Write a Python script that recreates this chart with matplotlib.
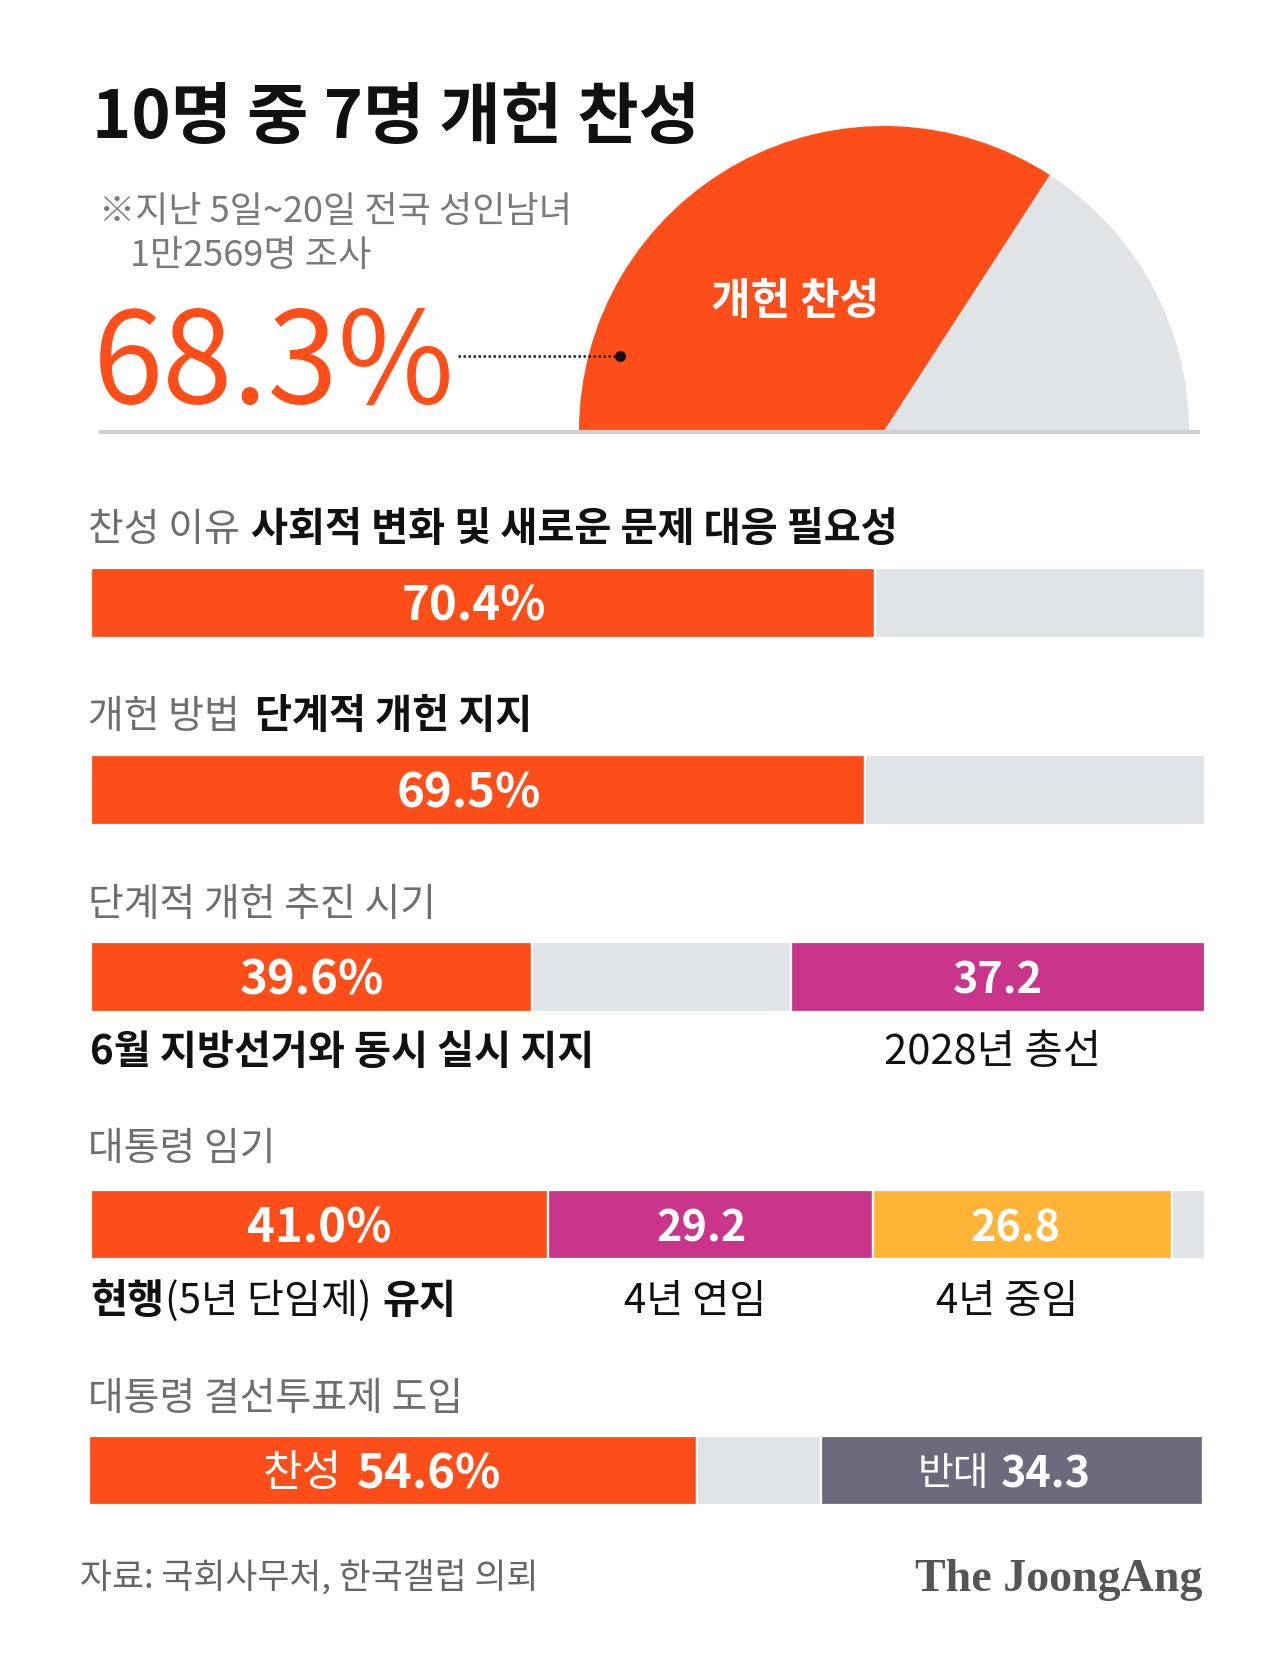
import matplotlib
matplotlib.use('Agg')
import matplotlib.pyplot as plt
from matplotlib.transforms import offset_copy

plt.rcParams['font.family'] = ['Noto Sans CJK KR', 'DejaVu Sans']

# ---------------- data ----------------
overall_values = [68.3, 31.7]            # 개헌 찬성 / 기타
reason_value = 70.4                      # 찬성 이유: 사회적 변화 및 새로운 문제 대응 필요성
method_value = 69.5                      # 개헌 방법: 단계적 개헌 지지
timing_values = [39.6, 37.2]             # 6월 지방선거와 동시 / 2028년 총선
timing_labels = ['6월 지방선거와 동시 실시 지지', '2028년 총선']
term_values = [41.0, 29.2, 26.8]         # 현행 유지 / 4년 연임 / 4년 중임
term_labels = ['현행(5년 단임제) 유지', '4년 연임', '4년 중임']
runoff_values = [54.6, 34.3]             # 찬성 / 반대
runoff_labels = ['찬성', '반대']

# ---------------- style ----------------
W, H, DPI = 1288, 1665, 100
ORANGE = '#FD4E1A'
LGRAY = '#E0E4E6'
MAGENTA = '#C8358A'
YELLOW = '#FDB437'
SLATE = '#6C6B7E'
SUBGRAY = '#7A7A7A'
HEADGRAY = '#6E6E6E'
BLACK = '#111111'
FS = 29
FSG = 28

fig = plt.figure(figsize=(W / DPI, H / DPI), dpi=DPI)
fig.patch.set_facecolor('white')

ax0 = fig.add_axes([0, 0, 1, 1])
ax0.set_xlim(0, W)
ax0.set_ylim(H, 0)
ax0.axis('off')
ax0.patch.set_alpha(0)
ax0.set_zorder(10)

renderer = fig.canvas.get_renderer()


def runs(ax, x, y, parts, ha='left', gaps=None, va='center'):
    """Place a sequence of differently-styled text runs side by side."""
    texts = []
    for s, kw in parts:
        t = ax.text(x, y, s, ha='left', va=va, **kw)
        texts.append(t)
    widths = [t.get_window_extent(renderer=renderer).width for t in texts]
    if gaps is None:
        gaps = [10] * (len(parts) - 1)
    total = sum(widths) + sum(gaps)
    off = 0 if ha == 'left' else -total / 2
    for i, t in enumerate(texts):
        t.set_transform(offset_copy(ax.transData, fig=fig, x=off, y=0, units='dots'))
        off += widths[i] + (gaps[i] if i < len(gaps) else 0)
    return texts


# ---------------- header ----------------
ax0.text(92, 118, '10명 중 7명 개헌 찬성', fontsize=48, weight='bold', color=BLACK, va='center')
ax0.text(99, 212, '※지난 5일~20일 전국 성인남녀', fontsize=26, color=SUBGRAY, va='center')
ax0.text(130, 256, '1만2569명 조사', fontsize=26, color=SUBGRAY, va='center')
ax0.text(93, 367, f'{overall_values[0]}%', fontsize=91, color=ORANGE, va='center')

# half pie
axp = fig.add_axes([579 / W, 1 - 432 / H, 610 / W, 305 / H])
axp.pie(overall_values + [sum(overall_values)], colors=[ORANGE, LGRAY, 'none'],
        startangle=180, counterclock=False, radius=1,
        wedgeprops=dict(linewidth=0))
axp.set_xlim(-1, 1)
axp.set_ylim(0, 1)
axp.set_aspect('equal')
axp.axis('off')
axp.text(-0.29, 0.43, '개헌 찬성', color='white', fontsize=31, weight='bold', ha='center', va='center')

# leader line
ax0.plot([458, 615], [357, 357], ls=(0, (1, 1)), color='#222222', lw=1.8)
ax0.plot([620], [357], 'o', ms=7, color='#111111')
ax0.plot([99, 1200], [433, 433], color='#CDD0D2', lw=3, solid_capstyle='butt')


# ---------------- bar rows ----------------
def bar_axes(top, bottom, left=91, right=1205):
    ax = fig.add_axes([left / W, 1 - bottom / H, (right - left) / W, (bottom - top) / H])
    ax.set_xlim(0, 100)
    ax.set_ylim(0, 1)
    ax.axis('off')
    return ax


def seg(ax, left, width, color):
    ax.barh(0.5, width, left=left, height=1, color=color, edgecolor='white', linewidth=1.6)


VAL = dict(color='white', fontsize=34, weight='bold')
VAL2 = dict(color='white', fontsize=31, weight='bold')
YT = 0.46

# row 1
runs(ax0, 88, 530, [('찬성 이유', dict(fontsize=FSG, color=HEADGRAY)),
                    ('사회적 변화 및 새로운 문제 대응 필요성', dict(fontsize=FS, color=BLACK, weight='bold'))],
     gaps=[11])
ax1 = bar_axes(569, 639)
seg(ax1, 0, reason_value, ORANGE)
seg(ax1, reason_value, 100 - reason_value, LGRAY)
ax1.text(reason_value / 2 - 0.8, YT, f'{reason_value}%', ha='center', va='center', **VAL)

# row 2
runs(ax0, 88, 717, [('개헌 방법', dict(fontsize=FSG, color=HEADGRAY)),
                    ('단계적 개헌 지지', dict(fontsize=FS, color=BLACK, weight='bold'))],
     gaps=[15])
ax2 = bar_axes(756, 826)
seg(ax2, 0, method_value, ORANGE)
seg(ax2, method_value, 100 - method_value, LGRAY)
ax2.text(method_value / 2 - 0.8, YT, f'{method_value}%', ha='center', va='center', **VAL)

# row 3
ax0.text(88, 905, '단계적 개헌 추진 시기', fontsize=FSG, color=HEADGRAY, va='center')
ax3 = bar_axes(943, 1013)
seg(ax3, 0, timing_values[0], ORANGE)
seg(ax3, timing_values[0], 100 - sum(timing_values), LGRAY)
seg(ax3, 100 - timing_values[1], timing_values[1], MAGENTA)
ax3.text(timing_values[0] / 2, YT, f'{timing_values[0]}%', ha='center', va='center', **VAL)
ax3.text(100 - timing_values[1] / 2, YT, f'{timing_values[1]}', ha='center', va='center', **VAL2)
ax3.text(-0.1, -0.56, timing_labels[0], ha='left', va='center', fontsize=FS, weight='bold', color=BLACK)
ax3.text(100 - timing_values[1] / 2 - 0.5, -0.56, timing_labels[1], ha='center', va='center', fontsize=30, color=BLACK)

# row 4
ax0.text(88, 1149, '대통령 임기', fontsize=FSG, color=HEADGRAY, va='center')
ax4 = bar_axes(1191, 1260)
term_colors = [ORANGE, MAGENTA, YELLOW]
left = 0
for v, c in zip(term_values, term_colors):
    seg(ax4, left, v, c)
    left += v
seg(ax4, left, 100 - left, LGRAY)
lefts = [0, term_values[0], term_values[0] + term_values[1]]
ax4.text(lefts[0] + term_values[0] / 2, YT, f'{term_values[0]}%', ha='center', va='center', **VAL)
ax4.text(lefts[1] + term_values[1] / 2 - 0.8, YT, f'{term_values[1]}', ha='center', va='center', **VAL2)
ax4.text(lefts[2] + term_values[2] / 2 - 0.6, YT, f'{term_values[2]}', ha='center', va='center', **VAL2)
runs(ax4, -0.1, -0.6, [('현행', dict(fontsize=FS, color=BLACK, weight='bold')),
                       ('(5년 단임제)', dict(fontsize=FS, color=BLACK)),
                       ('유지', dict(fontsize=FS, color=BLACK, weight='bold'))],
     gaps=[1, 11])
ax4.text(lefts[1] + term_values[1] / 2 - 1.4, -0.6, term_labels[1], ha='center', va='center', fontsize=FS, color=BLACK)
ax4.text(lefts[2] + term_values[2] / 2 - 1.4, -0.6, term_labels[2], ha='center', va='center', fontsize=FS, color=BLACK)

# row 5
ax0.text(88, 1399, '대통령 결선투표제 도입', fontsize=FSG, color=HEADGRAY, va='center')
ax5 = bar_axes(1437, 1506, left=89, right=1203)
seg(ax5, 0, runoff_values[0], ORANGE)
seg(ax5, runoff_values[0], 100 - sum(runoff_values), LGRAY)
seg(ax5, 100 - runoff_values[1], runoff_values[1], SLATE)
runs(ax5, runoff_values[0] / 2 - 1.0, YT, [(runoff_labels[0], dict(fontsize=31, color='white')),
                                           (f'{runoff_values[0]}%', dict(fontsize=34, color='white', weight='bold'))],
     ha='center', gaps=[14])
runs(ax5, 100 - runoff_values[1] / 2 - 0.7, YT, [(runoff_labels[1], dict(fontsize=28, color='white')),
                                                 (f'{runoff_values[1]}', dict(fontsize=31, color='white', weight='bold'))],
     ha='center', gaps=[12])

# ---------------- footer ----------------
ax0.text(80, 1578, '자료: 국회사무처, 한국갤럽 의뢰', fontsize=25, color='#666666', va='center')
ax0.text(1203, 1580, 'The JoongAng', fontsize=33, weight='bold', color='#555555', ha='right', va='center',
         family=['Liberation Serif', 'DejaVu Serif'])

fig.savefig('out.png', dpi=DPI, facecolor='white')
